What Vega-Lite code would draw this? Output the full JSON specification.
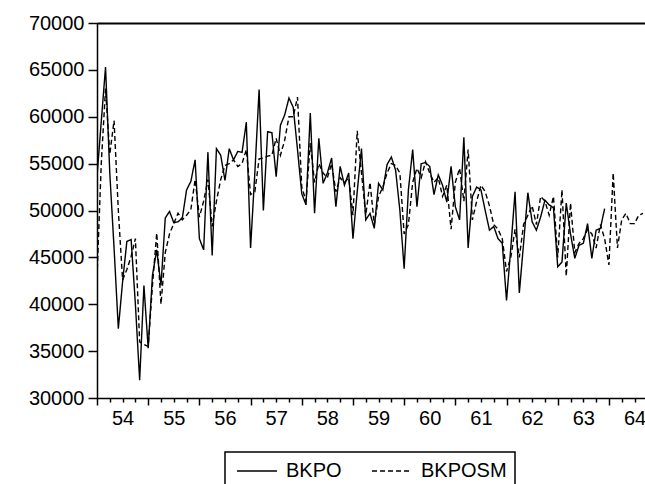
{
  "$schema": "https://vega.github.io/schema/vega-lite/v6.json",
  "autosize": {"type": "none"},
  "padding": {"left": 97, "top": 23, "right": 0, "bottom": 86},
  "width": 548,
  "height": 375,
  "background": "white",
  "config": {
    "view": {"stroke": null},
    "font": "Liberation Sans",
    "axis": {"labelFont": "Liberation Sans", "labelColor": "black", "domainColor": "black", "tickColor": "black", "grid": false, "title": null}
  },
  "data": {"values": [
    {"t":1954.0,"BKPO":53600,"BKPOSM":42900},{"t":1954.0833,"BKPO":59500,"BKPOSM":55000},{"t":1954.1667,"BKPO":65300,"BKPOSM":63000},{"t":1954.25,"BKPO":54000,"BKPOSM":56000},{"t":1954.3333,"BKPO":46000,"BKPOSM":59600},{"t":1954.4167,"BKPO":37400,"BKPOSM":50000},{"t":1954.5,"BKPO":42400,"BKPOSM":42600},{"t":1954.5833,"BKPO":46700,"BKPOSM":43700},{"t":1954.6667,"BKPO":46900,"BKPOSM":45100},{"t":1954.75,"BKPO":40000,"BKPOSM":47000},{"t":1954.8333,"BKPO":31900,"BKPOSM":36000},{"t":1954.9167,"BKPO":42000,"BKPOSM":35700},
    {"t":1955.0,"BKPO":35300,"BKPOSM":35500},{"t":1955.0833,"BKPO":43100,"BKPOSM":42000},{"t":1955.1667,"BKPO":45800,"BKPOSM":47600},{"t":1955.25,"BKPO":42000,"BKPOSM":40000},{"t":1955.3333,"BKPO":49200,"BKPOSM":45500},{"t":1955.4167,"BKPO":49900,"BKPOSM":47500},{"t":1955.5,"BKPO":48700,"BKPOSM":48600},{"t":1955.5833,"BKPO":48800,"BKPOSM":49700},{"t":1955.6667,"BKPO":49200,"BKPOSM":49000},{"t":1955.75,"BKPO":52200,"BKPOSM":49500},{"t":1955.8333,"BKPO":53100,"BKPOSM":50100},{"t":1955.9167,"BKPO":55400,"BKPOSM":53300},
    {"t":1956.0,"BKPO":47000,"BKPOSM":49300},{"t":1956.0833,"BKPO":45800,"BKPOSM":51000},{"t":1956.1667,"BKPO":56200,"BKPOSM":53300},{"t":1956.25,"BKPO":45200,"BKPOSM":48300},{"t":1956.3333,"BKPO":56600,"BKPOSM":51000},{"t":1956.4167,"BKPO":55900,"BKPOSM":53300},{"t":1956.5,"BKPO":53200,"BKPOSM":54800},{"t":1956.5833,"BKPO":56600,"BKPOSM":55000},{"t":1956.6667,"BKPO":55400,"BKPOSM":55400},{"t":1956.75,"BKPO":56300,"BKPOSM":54700},{"t":1956.8333,"BKPO":56200,"BKPOSM":55000},{"t":1956.9167,"BKPO":59400,"BKPOSM":56500},
    {"t":1957.0,"BKPO":46000,"BKPOSM":51700},{"t":1957.0833,"BKPO":54000,"BKPOSM":52000},{"t":1957.1667,"BKPO":62900,"BKPOSM":55500},{"t":1957.25,"BKPO":50000,"BKPOSM":55600},{"t":1957.3333,"BKPO":58400,"BKPOSM":55800},{"t":1957.4167,"BKPO":58300,"BKPOSM":55900},{"t":1957.5,"BKPO":53600,"BKPOSM":57700},{"t":1957.5833,"BKPO":59100,"BKPOSM":55900},{"t":1957.6667,"BKPO":60200,"BKPOSM":57500},{"t":1957.75,"BKPO":62000,"BKPOSM":60000},{"t":1957.8333,"BKPO":61000,"BKPOSM":60000},{"t":1957.9167,"BKPO":56500,"BKPOSM":62100},
    {"t":1958.0,"BKPO":51800,"BKPOSM":52500},{"t":1958.0833,"BKPO":50600,"BKPOSM":51000},{"t":1958.1667,"BKPO":60400,"BKPOSM":57200},{"t":1958.25,"BKPO":49700,"BKPOSM":53000},{"t":1958.3333,"BKPO":57700,"BKPOSM":55000},{"t":1958.4167,"BKPO":52900,"BKPOSM":54000},{"t":1958.5,"BKPO":54000,"BKPOSM":53500},{"t":1958.5833,"BKPO":55600,"BKPOSM":55000},{"t":1958.6667,"BKPO":50400,"BKPOSM":52000},{"t":1958.75,"BKPO":54700,"BKPOSM":53500},{"t":1958.8333,"BKPO":52700,"BKPOSM":53000},{"t":1958.9167,"BKPO":54000,"BKPOSM":53500},
    {"t":1959.0,"BKPO":47000,"BKPOSM":49500},{"t":1959.0833,"BKPO":52000,"BKPOSM":58500},{"t":1959.1667,"BKPO":56600,"BKPOSM":54000},{"t":1959.25,"BKPO":49000,"BKPOSM":49500},{"t":1959.3333,"BKPO":49700,"BKPOSM":53000},{"t":1959.4167,"BKPO":48100,"BKPOSM":48500},{"t":1959.5,"BKPO":52900,"BKPOSM":51500},{"t":1959.5833,"BKPO":52200,"BKPOSM":52500},{"t":1959.6667,"BKPO":54900,"BKPOSM":54000},{"t":1959.75,"BKPO":55700,"BKPOSM":55000},{"t":1959.8333,"BKPO":54300,"BKPOSM":54800},{"t":1959.9167,"BKPO":50000,"BKPOSM":54000},
    {"t":1960.0,"BKPO":43800,"BKPOSM":47500},{"t":1960.0833,"BKPO":52200,"BKPOSM":48500},{"t":1960.1667,"BKPO":56500,"BKPOSM":53000},{"t":1960.25,"BKPO":50400,"BKPOSM":54500},{"t":1960.3333,"BKPO":55000,"BKPOSM":53500},{"t":1960.4167,"BKPO":55100,"BKPOSM":55200},{"t":1960.5,"BKPO":54700,"BKPOSM":54000},{"t":1960.5833,"BKPO":51700,"BKPOSM":53000},{"t":1960.6667,"BKPO":53800,"BKPOSM":53500},{"t":1960.75,"BKPO":52700,"BKPOSM":51500},{"t":1960.8333,"BKPO":50900,"BKPOSM":52700},{"t":1960.9167,"BKPO":54700,"BKPOSM":48000},
    {"t":1961.0,"BKPO":50400,"BKPOSM":53000},{"t":1961.0833,"BKPO":49000,"BKPOSM":54500},{"t":1961.1667,"BKPO":57800,"BKPOSM":51000},{"t":1961.25,"BKPO":46000,"BKPOSM":56500},{"t":1961.3333,"BKPO":51500,"BKPOSM":49000},{"t":1961.4167,"BKPO":52500,"BKPOSM":51000},{"t":1961.5,"BKPO":52200,"BKPOSM":52700},{"t":1961.5833,"BKPO":50000,"BKPOSM":52000},{"t":1961.6667,"BKPO":47900,"BKPOSM":50500},{"t":1961.75,"BKPO":48300,"BKPOSM":48500},{"t":1961.8333,"BKPO":47000,"BKPOSM":48000},{"t":1961.9167,"BKPO":46500,"BKPOSM":47000},
    {"t":1962.0,"BKPO":40400,"BKPOSM":43500},{"t":1962.0833,"BKPO":46000,"BKPOSM":45000},{"t":1962.1667,"BKPO":52000,"BKPOSM":48000},{"t":1962.25,"BKPO":41200,"BKPOSM":45000},{"t":1962.3333,"BKPO":46500,"BKPOSM":48500},{"t":1962.4167,"BKPO":51900,"BKPOSM":49500},{"t":1962.5,"BKPO":48800,"BKPOSM":50500},{"t":1962.5833,"BKPO":47900,"BKPOSM":48500},{"t":1962.6667,"BKPO":49300,"BKPOSM":51500},{"t":1962.75,"BKPO":51100,"BKPOSM":51000},{"t":1962.8333,"BKPO":50600,"BKPOSM":49500},{"t":1962.9167,"BKPO":50300,"BKPOSM":51500},
    {"t":1963.0,"BKPO":44000,"BKPOSM":45000},{"t":1963.0833,"BKPO":44500,"BKPOSM":52200},{"t":1963.1667,"BKPO":50800,"BKPOSM":43000},{"t":1963.25,"BKPO":47500,"BKPOSM":50800},{"t":1963.3333,"BKPO":44900,"BKPOSM":45500},{"t":1963.4167,"BKPO":46300,"BKPOSM":46500},{"t":1963.5,"BKPO":46500,"BKPOSM":47000},{"t":1963.5833,"BKPO":48600,"BKPOSM":48000},{"t":1963.6667,"BKPO":44900,"BKPOSM":47500},{"t":1963.75,"BKPO":47900,"BKPOSM":46000},{"t":1963.8333,"BKPO":48100,"BKPOSM":48500},{"t":1963.9167,"BKPO":50200,"BKPOSM":47000},
    {"t":1964.0,"BKPO":null,"BKPOSM":44200},{"t":1964.0833,"BKPO":null,"BKPOSM":54000},{"t":1964.1667,"BKPO":null,"BKPOSM":46000},{"t":1964.25,"BKPO":null,"BKPOSM":49000},{"t":1964.3333,"BKPO":null,"BKPOSM":49700},{"t":1964.4167,"BKPO":null,"BKPOSM":48600},{"t":1964.5,"BKPO":null,"BKPOSM":48600},{"t":1964.5833,"BKPO":null,"BKPOSM":49500},{"t":1964.6667,"BKPO":null,"BKPOSM":49700}
  ]},
  "transform": [
    {"fold": ["BKPO", "BKPOSM"], "as": ["series", "value"]},
    {"filter": "datum.value != null"}
  ],
  "layer": [
    {
      "transform": [{"filter": "datum.series == 'BKPO'"}],
      "mark": {"type": "line", "color": "black", "strokeWidth": 1.4, "clip": true},
      "encoding": {
        "x": {"field": "t", "type": "quantitative",
              "scale": {"domain": [1954, 1964.705], "nice": false, "zero": false},
              "axis": {"orient": "bottom", "values": [1954,1954.25,1954.5,1954.75,1955,1955.25,1955.5,1955.75,1956,1956.25,1956.5,1956.75,1957,1957.25,1957.5,1957.75,1958,1958.25,1958.5,1958.75,1959,1959.25,1959.5,1959.75,1960,1960.25,1960.5,1960.75,1961,1961.25,1961.5,1961.75,1962,1962.25,1962.5,1962.75,1963,1963.25,1963.5,1963.75,1964,1964.25,1964.5],
                       "labelExpr": "(datum.value % 1) == 0.5 ? substring(toString(floor(datum.value)), 2, 4) : ''",
                       "tickSize": {"condition": {"test": "(datum.value % 1) == 0", "value": 7}, "value": 4},
                       "tickWidth": 1.5, "domainWidth": 1.5, "labelFontSize": 20, "labelPadding": 6, "labelFlush": false, "labelOverlap": false}},
        "y": {"field": "value", "type": "quantitative",
              "scale": {"domain": [30000, 70000], "nice": false, "zero": false},
              "axis": {"values": [30000,35000,40000,45000,50000,55000,60000,65000,70000], "format": "d", "tickSize": 9, "tickWidth": 1.5, "domainWidth": 1.5, "labelFontSize": 20, "labelPadding": 4}},
        "strokeDash": {"field": "series", "type": "nominal",
                       "scale": {"domain": ["BKPO", "BKPOSM"], "range": [[1, 0], [5, 3]]},
                       "legend": {"title": null, "orient": "none", "legendX": 128, "legendY": 429, "direction": "horizontal",
                                  "strokeColor": "black", "padding": 8, "fillColor": "white",
                                  "symbolType": "M-0.7,0H3.3", "symbolSize": 400, "symbolStrokeWidth": 1.5, "symbolStrokeColor": "black",
                                  "labelFontSize": 20, "labelFont": "Liberation Sans", "labelColor": "black", "labelOffset": 31, "columnPadding": 26,
                                  "encode": {"legend": {"update": {"strokeWidth": {"value": 1.5}}}}}}
      }
    },
    {
      "transform": [{"filter": "datum.series == 'BKPOSM'"}],
      "mark": {"type": "line", "color": "black", "strokeWidth": 1.4, "clip": true},
      "encoding": {
        "x": {"field": "t", "type": "quantitative",
              "axis": {"orient": "top", "ticks": false, "labels": false, "domain": true, "domainWidth": 2}},
        "y": {"field": "value", "type": "quantitative"},
        "strokeDash": {"field": "series", "type": "nominal"}
      }
    }
  ],
  "resolve": {"axis": {"x": "independent"}}
}
